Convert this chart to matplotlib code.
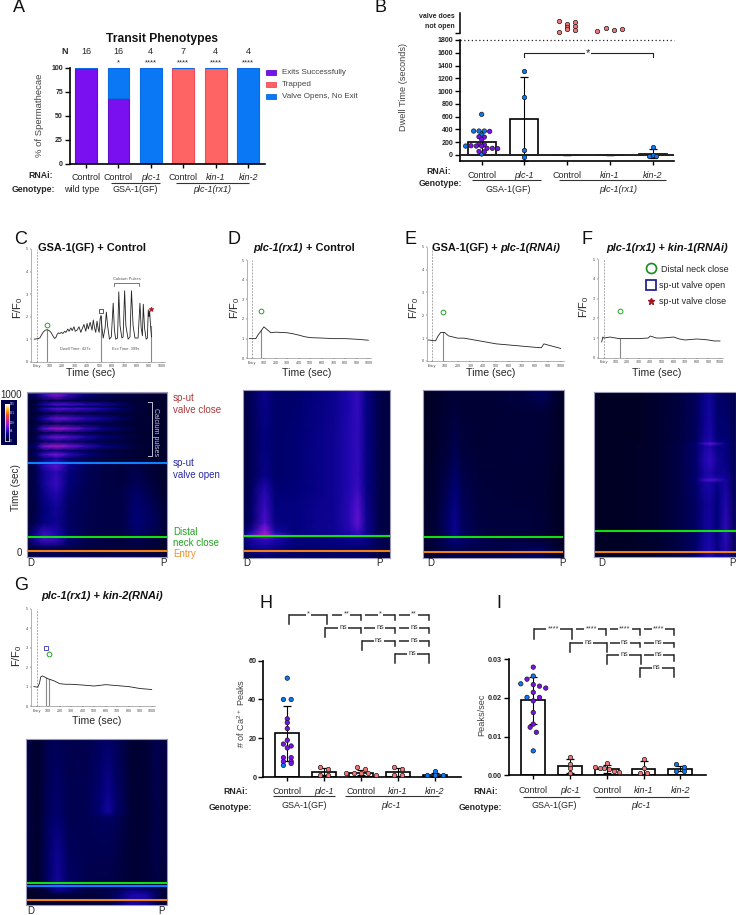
import numpy as np
import matplotlib
matplotlib.use("Agg")
import matplotlib.pyplot as plt
from matplotlib.colors import LinearSegmentedColormap
from matplotlib.patches import Rectangle

plt.rcParams['font.family'] = ['Liberation Sans', 'DejaVu Sans']
plt.rcParams['mathtext.default'] = 'regular'
plt.rcParams['axes.linewidth'] = 1.0

W, H = 736, 915
DARK = '#262626'
PURPLE, BLUE, SALMON, RED = '#7a0ff0', '#0a78f5', '#f07878', '#ff6464'

# ---------- Panel A data ----------
a_labels = ['Control', 'Control', 'plc-1', 'Control', 'kin-1', 'kin-2']
a_exits = [100, 68.75, 0, 0, 0, 0]
a_trapped = [0, 0, 0, 100, 100, 0]
a_valve = [0, 31.25, 100, 0, 0, 100]
a_n = [16, 16, 4, 7, 4, 4]
a_sig = ['', '*', '****', '****', '****', '****']
a_yticks = [0, 25, 50, 75, 100]

# ---------- Panel B data ----------
b_labels = ['Control', 'plc-1', 'Control', 'kin-1', 'kin-2']
b_means = [210, 560, 0, 0, 20]
b_err = [160, 655, 0, 0, 70]
b_ctrl_blue = [636, 375, 375, 375, 313, 140, 15]
b_ctrl_purple = [370, 285, 280, 245, 165, 160, 145, 140, 140, 105, 105, 100, 55, 50]
b_plc_blue = [1320, 915, 80, -30]
b_kin2_blue = [125, 5, -15, -15]
b_yticks = [0, 200, 400, 600, 800, 1000, 1200, 1400, 1600, 1800]
# spermathecae whose valve never opened (arbitrary height above the axis break)
b_noopen_control = [[61, 5], [44, 32, 21], [53, 35, 13]]
b_noopen_kin1 = [[8], [23], [13], [19]]

# ---------- Traces ----------
c_t = [-25, 0, 20, 35, 50, 65, 80, 95, 110, 125, 140, 150, 160, 170, 180, 195, 205, 220, 230, 245, 255, 270, 280, 295,
       305, 320, 335, 350, 360, 375, 390, 400, 410, 425, 440, 450, 460, 470, 480, 490, 497, 505, 512, 520, 530, 545,
       555, 565, 580, 595, 610, 620, 630, 645, 655, 665, 680, 690, 702, 712, 730, 745, 757, 770, 785, 810, 825, 835,
       845, 852, 862, 875, 885, 892, 898, 903, 910, 918]
c_v = [1, 1.02, 1.05, 1.2, 1.33, 1.4, 1.42, 1.38, 1.3, 1.15, 1.03, 1.08, 1.22, 1.28, 1.25, 1.3, 1.25, 1.35, 1.3, 1.45,
       1.35, 1.5, 1.38, 1.55, 1.35, 1.4, 1.55, 1.3, 1.45, 1.65, 1.35, 1.7, 1.45, 1.75, 1.4, 1.85, 1.5, 1.3, 1.8, 1.45,
       1.3, 1.9, 2.05, 1.5, 1.05, 1.5, 2.2, 1.6, 1.0, 1.1, 2.6, 1.4, 1.0, 1.05, 3.1, 1.6, 1.05, 1.1, 3.15, 1.6, 1.0,
       1.1, 3.15, 1.6, 1.05, 1.05, 2.6, 1.5, 1.15, 2.55, 1.5, 1.0, 1.05, 2.3, 2.0, 2.25, 1.6, 1.1]
d_t = [-25, 0, 30, 50, 70, 100, 130, 160, 200, 300, 350, 400, 450, 500, 600, 700, 800, 900, 1000]
d_v = [1.0, 1.0, 1.0, 1.2, 1.35, 1.6, 1.45, 1.3, 1.33, 1.3, 1.25, 1.18, 1.1, 1.05, 1.03, 1.0, 1.0, 0.97, 0.92]
e_t = [-25, 0, 30, 50, 70, 100, 130, 200, 250, 300, 400, 500, 600, 700, 800, 850, 870, 900, 1000]
e_v = [0.92, 0.9, 0.88, 1.1, 1.25, 1.25, 1.1, 1.0, 1.0, 0.95, 0.85, 0.75, 0.7, 0.65, 0.6, 0.58, 0.75, 0.7, 0.55]
f_t = [-20, -10, 0, 50, 100, 130, 200, 300, 380, 400, 450, 500, 600, 650, 700, 800, 850, 900, 950, 1000]
f_v = [0.8, 1.05, 1.0, 1.05, 1.0, 0.97, 0.97, 0.97, 1.0, 1.1, 1.0, 1.0, 1.05, 0.95, 0.9, 0.95, 0.93, 0.9, 0.85, 0.85]
g_t = [-25, 10, 25, 35, 50, 100, 150, 200, 250, 300, 400, 500, 600, 700, 800, 900, 1000]
g_v = [1.0, 0.97, 1.2, 1.5, 1.55, 1.4, 1.3, 1.15, 1.12, 1.12, 1.08, 1.03, 1.1, 1.05, 1.0, 0.9, 0.85]

# ---------- Kymographs: distance along the tissue, time, intensity ----------
c_pos = [0, .06, .12, .21, .3, .42, .55, .68, .78, .9, 1]
c_time = [1040, 985, 950, 926, 913, 900, 870, 838, 805, 774, 747, 720, 692, 663, 636, 610, 585, 540, 500, 430, 360, 270,
          180, 110, 70, 20, -40]
c_grid = [
    [25, 30, 45, 55, 45, 35, 28, 22, 20, 15, 12],
    [25, 35, 70, 105, 70, 40, 28, 22, 20, 15, 12],
    [12, 15, 22, 28, 25, 20, 18, 15, 14, 12, 10],
    [15, 22, 60, 85, 80, 65, 55, 35, 20, 14, 10],
    [12, 16, 28, 40, 38, 32, 26, 20, 15, 12, 10],
    [15, 25, 60, 85, 80, 70, 55, 35, 20, 14, 10],
    [10, 14, 20, 25, 24, 20, 18, 15, 13, 11, 10],
    [15, 25, 60, 95, 85, 65, 50, 30, 18, 13, 10],
    [10, 14, 22, 28, 25, 22, 18, 15, 13, 11, 10],
    [18, 30, 85, 115, 100, 70, 45, 30, 18, 13, 10],
    [12, 16, 25, 32, 28, 22, 18, 15, 13, 11, 10],
    [15, 28, 70, 100, 85, 60, 40, 28, 18, 13, 10],
    [12, 18, 30, 40, 32, 24, 18, 15, 13, 11, 10],
    [20, 40, 100, 120, 100, 70, 45, 32, 20, 14, 10],
    [12, 22, 35, 45, 35, 25, 18, 15, 13, 11, 10],
    [15, 35, 75, 100, 70, 45, 30, 22, 16, 12, 10],
    [12, 22, 40, 55, 35, 24, 18, 15, 13, 11, 10],
    [15, 28, 65, 88, 50, 30, 22, 20, 22, 14, 10],
    [14, 25, 50, 68, 42, 28, 22, 20, 25, 15, 10],
    [14, 25, 52, 72, 40, 28, 22, 20, 28, 18, 10],
    [14, 25, 45, 62, 35, 26, 22, 22, 35, 22, 10],
    [14, 22, 40, 52, 32, 26, 22, 22, 38, 28, 12],
    [15, 28, 42, 50, 32, 25, 22, 22, 40, 30, 14],
    [20, 50, 75, 60, 35, 25, 22, 22, 32, 25, 14],
    [22, 55, 75, 70, 40, 26, 22, 20, 25, 20, 14],
    [15, 22, 28, 26, 22, 20, 18, 18, 18, 15, 12],
    [20, 25, 30, 30, 28, 25, 25, 26, 26, 24, 18],
]
d_pos = [0, .06, .15, .22, .35, .5, .62, .72, .78, .84, .92, 1]
d_time = [1040, 700, 480, 400, 280, 180, 125, 100, 70, 30, -45]
d_grid = [
    [20, 30, 48, 35, 35, 42, 48, 60, 70, 45, 25, 18],
    [20, 28, 42, 35, 38, 45, 50, 62, 70, 45, 25, 18],
    [20, 28, 46, 35, 38, 45, 50, 62, 70, 45, 25, 18],
    [20, 32, 62, 38, 40, 45, 50, 62, 72, 45, 25, 18],
    [22, 35, 72, 42, 42, 48, 50, 65, 85, 48, 25, 18],
    [22, 35, 80, 45, 42, 48, 50, 65, 90, 50, 25, 18],
    [30, 55, 110, 55, 42, 48, 50, 62, 75, 50, 25, 20],
    [40, 80, 125, 80, 45, 45, 48, 55, 65, 50, 30, 25],
    [30, 55, 70, 60, 42, 42, 45, 48, 50, 45, 28, 22],
    [30, 50, 55, 50, 40, 38, 40, 40, 40, 38, 28, 22],
    [20, 28, 35, 30, 30, 30, 30, 30, 30, 30, 20, 20],
]
e_pos = [0, .1, .18, .23, .28, .4, .55, .72, .85, .92, 1]
e_time = [1040, 960, 880, 600, 400, 200, 110, 60, 20, -45]
e_grid = [
    [5, 10, 14, 16, 14, 14, 16, 22, 35, 20, 5],
    [5, 10, 14, 16, 14, 14, 16, 20, 25, 16, 5],
    [5, 10, 15, 18, 15, 14, 15, 16, 16, 12, 5],
    [5, 12, 20, 28, 20, 15, 15, 16, 15, 12, 5],
    [6, 15, 28, 40, 26, 18, 16, 15, 14, 10, 5],
    [8, 18, 35, 48, 30, 20, 18, 18, 16, 10, 5],
    [8, 18, 35, 50, 32, 22, 18, 18, 16, 10, 5],
    [12, 22, 32, 38, 34, 28, 22, 22, 20, 14, 8],
    [10, 18, 24, 26, 25, 22, 22, 28, 28, 18, 8],
    [10, 16, 20, 22, 22, 22, 25, 30, 30, 20, 10],
]
f_pos = [0, .15, .3, .45, .6, .72, .78, .82, .87, .93, 1]
f_time = [1040, 750, 700, 688, 670, 582, 500, 470, 456, 440, 300, 150, 30, -45]
f_grid = [
    [6, 6, 6, 12, 20, 30, 45, 52, 35, 30, 25],
    [6, 6, 6, 12, 20, 30, 50, 58, 38, 38, 25],
    [6, 6, 6, 12, 20, 32, 55, 62, 42, 40, 25],
    [6, 6, 8, 12, 22, 38, 75, 90, 70, 45, 25],
    [6, 6, 8, 12, 22, 35, 55, 62, 45, 42, 25],
    [6, 6, 8, 12, 22, 36, 62, 70, 52, 44, 25],
    [6, 6, 8, 12, 22, 35, 55, 60, 48, 48, 25],
    [6, 6, 8, 12, 22, 36, 60, 65, 55, 52, 25],
    [6, 6, 8, 12, 22, 40, 75, 85, 75, 55, 25],
    [6, 6, 8, 12, 22, 35, 55, 58, 45, 55, 25],
    [6, 6, 8, 12, 22, 32, 48, 52, 40, 62, 25],
    [6, 6, 8, 12, 22, 32, 50, 55, 40, 68, 25],
    [6, 6, 8, 12, 22, 35, 55, 60, 45, 65, 25],
    [6, 6, 8, 12, 20, 35, 55, 62, 45, 50, 25],
]
g_pos = [0, .08, .15, .22, .3, .42, .52, .58, .64, .75, .85, .93, 1]
g_time = [1040, 700, 560, 520, 300, 150, 100, 60, 30, -45]
g_grid = [
    [22, 10, 25, 28, 24, 24, 30, 32, 28, 12, 15, 25, 20],
    [22, 10, 28, 34, 26, 26, 36, 48, 34, 14, 14, 25, 18],
    [22, 10, 28, 36, 26, 26, 38, 55, 36, 14, 14, 24, 18],
    [22, 10, 30, 38, 26, 26, 30, 32, 28, 14, 14, 24, 18],
    [22, 10, 32, 50, 30, 26, 26, 26, 24, 14, 16, 24, 18],
    [22, 10, 32, 52, 32, 26, 24, 24, 22, 14, 16, 22, 16],
    [18, 12, 35, 55, 38, 22, 22, 22, 20, 16, 18, 22, 14],
    [8, 10, 25, 50, 40, 22, 22, 25, 25, 45, 35, 25, 10],
    [8, 10, 14, 18, 18, 18, 20, 25, 35, 60, 60, 30, 8],
    [10, 12, 14, 14, 14, 16, 18, 20, 28, 55, 45, 25, 10],
]

# ---------- Panels H and I ----------
hi_labels = ['Control', 'plc-1', 'Control', 'kin-1', 'kin-2']
h_means = [22.5, 2.8, 2.2, 2.5, 1.2]
h_err = [14, 1.9, 1.4, 1.9, 1.0]
h_ctrl_blue = [51, 40, 40, 6]
h_ctrl_purple = [30, 28, 25, 19, 17, 16, 15, 10, 10, 8, 8, 7]
h_plc = [5, 4, 1, 1]
h_control = [5, 4, 2, 2, 2, 2, 1]
h_kin1 = [5, 4, 1, 1]
h_kin2 = [3, 1, 1, 1]
h_yticks = [0, 20, 40, 60]
i_means = [.0193, .0024, .0017, .0017, .0017]
i_err = [.006, .0018, .001, .0019, .0007]
i_ctrl_blue = [.0256, .0236, .0201, .0063]
i_ctrl_purple = [.0279, .0248, .0234, .023, .0225, .0214, .0201, .0192, .0162, .0132, .0124, .0111]
i_plc = [.0047, .0029, .0018, .0006]
i_control = [.0031, .0022, .0018, .0018, .0016, .001, .0009]
i_kin1 = [.0041, .0019, .0005, .0005]
i_kin2 = [.0028, .0022, .001, .001]
i_yticks = [0, .01, .02, .03]

# significance rows: (level, [(from, to, label)...], [(leg position, leg end)...])
h_sig = [
    (83.7, [(.06, 1.07, '*'), (1.20, 2.0, '**'), (2.11, 2.93, '*'), (3.02, 3.84, '**')],
     [(.06, 78.7), (1.07, 78.7), (2.0, 80.9), (2.93, 80.9), (3.84, 80.9)]),
    (76.8, [(1.03, 2.0, 'ns'), (2.09, 2.93, 'ns'), (3.02, 3.84, 'ns')],
     [(1.03, 72), (2.0, 74.1), (2.93, 74.1), (3.84, 74.1)]),
    (70.3, [(2.03, 2.93, 'ns'), (3.02, 3.84, 'ns')], [(2.03, 65.5), (2.93, 67.5), (3.84, 67.5)]),
    (63.6, [(2.93, 3.84, 'ns')], [(2.93, 58.9), (3.84, 58.9)]),
]
i_sig = [
    (.03765, [(.03, 1.05, '****'), (1.16, 1.99, '****'), (2.08, 2.9, '****'), (3.0, 3.82, '****')],
     [(.03, .03516), (1.05, .03516), (1.99, .03619), (2.9, .03619), (3.82, .03619)]),
    (.03421, [(1.0, 2.0, 'ns'), (2.08, 2.9, 'ns'), (3.0, 3.82, 'ns')],
     [(1.0, .03181), (2.0, .03181), (2.9, .03301), (3.82, .03301)]),
    (.03103, [(2.01, 2.93, 'ns'), (3.0, 3.82, 'ns')], [(2.01, .02863), (2.93, .02863), (3.82, .02957)]),
    (.02768, [(2.9, 3.82, 'ns')], [(2.9, .02527), (3.82, .02527)]),
]

# ---------- Helpers ----------
fig = plt.figure(figsize=(W / 100, H / 100), dpi=100, facecolor='white')
ov = fig.add_axes([0, 0, 1, 1], zorder=20)
ov.set_xlim(0, W); ov.set_ylim(H, 0); ov.axis('off'); ov.patch.set_alpha(0)
renderer = fig.canvas.get_renderer()


def axbox(l, t, r, b, **kw):
    return fig.add_axes([l / W, 1 - b / H, (r - l) / W, (b - t) / H], **kw)


def T(x, y, s, size=6.5, ha='center', va='center', color=DARK, **kw):
    return ov.text(x, y, s, fontsize=size, ha=ha, va=va, color=color, **kw)


def runs(cx, y, parts, size=7.9):
    items = []
    for s, it in parts:
        t = T(0, y, s, size=size, ha='left', fontweight='bold', fontstyle='italic' if it else 'normal', color='#111111')
        items.append((t, t.get_window_extent(renderer).width))
    gap = size * 100 / 72 * 0.28
    total = sum(w for _, w in items) + gap * (len(items) - 1)
    x = cx - total / 2
    for t, w in items:
        t.set_x(x)
        x += w + gap


def rule(x0, x1, y, color='#333333', lw=0.8):
    ov.plot([x0, x1], [y, y], color=color, lw=lw, solid_capstyle='butt')


def swarm(values, binw, step):
    v = np.asarray(values, float)
    off = np.zeros(len(v))
    bins = np.floor(v / binw)
    for b in np.unique(bins):
        idx = np.where(bins == b)[0]
        off[idx] = (np.arange(len(idx)) - (len(idx) - 1) / 2) * step
    return off


def style_xlabels(ax, labels, size=6.5, pad=4):
    ax.set_xticks(range(len(labels)))
    ax.set_xticklabels(labels, fontsize=size, color=DARK)
    for lab, s in zip(ax.get_xticklabels(), labels):
        if s != 'Control':
            lab.set_fontstyle('italic')
    ax.tick_params(axis='x', length=3, width=1, pad=pad)


def style_bar_axes(ax, yticks, fmt, size=5):
    for s in ('top', 'right'):
        ax.spines[s].set_visible(False)
    ax.spines['left'].set_linewidth(1.2)
    ax.spines['bottom'].set_linewidth(1.2)
    ax.set_yticks(yticks)
    ax.set_yticklabels([fmt % v for v in yticks], fontsize=size, fontweight='bold', color=DARK)
    ax.tick_params(axis='y', length=3.5, width=1, pad=1.5)


def points(ax, i, values, color, binw=None, step=0.2, offs=None):
    o = swarm(values, binw, step) if offs is None else offs
    ax.scatter(i + o, values, s=10, c=color, edgecolors='#1a1a1a', linewidths=0.5, zorder=5, clip_on=False)


def means_bars(ax, means, err, width=.65):
    x = np.arange(len(means))
    ax.bar(x, means, width=width, color='white', edgecolor='black', linewidth=1.2, zorder=2)
    ax.errorbar(x, means, yerr=err, fmt='none', ecolor='black', elinewidth=0.8, capsize=3.2, capthick=0.9, zorder=3)


def sig_rows(ax, rows, span):
    for level, segs, legs in rows:
        for a, b, lab in segs:
            ax.plot([a, b], [level, level], color='#262626', lw=1.1, clip_on=False, solid_capstyle='butt')
            stars = '*' in lab
            ax.text((a + b) / 2, level + (0.006 * span if stars else 0.002 * span), lab, fontsize=5.2,
                    ha='center', va='center', color='#333333', clip_on=False,
                    bbox=dict(fc='white', ec='none', pad=0.8), zorder=6)
        for x, end in legs:
            ax.plot([x, x], [level, end], color='#262626', lw=1.1, clip_on=False, solid_capstyle='projecting')


fire = LinearSegmentedColormap.from_list('fire', [
    (0, '#000018'), (20 / 255, '#000040'), (40 / 255, '#000078'), (60 / 255, '#1c06ac'), (80 / 255, '#4a0ecc'),
    (110 / 255, '#9018dc'), (140 / 255, '#d02090'), (180 / 255, '#f05010'), (220 / 255, '#ffc020'), (1, '#ffffff')])


def kymo(box, tlim, pos, times, grid, events):
    ax = axbox(*box)
    ax.pcolormesh(pos, times, np.array(grid, float), shading='gouraud', cmap=fire, vmin=0, vmax=255)
    ax.set_xlim(0, 1); ax.set_ylim(*tlim)
    ax.set_xticks([]); ax.set_yticks([])
    for s in ax.spines.values():
        s.set_color('#9a9ab8'); s.set_linewidth(0.8)
    for t, c, x0, x1 in events:
        ax.axhline(t, color=c, lw=1.5, xmin=x0, xmax=x1)
    return ax


def trace(sx, ex, x1000, y5, y0, t, v, marks, stops):
    per = (x1000 - ex) / 1000
    ax = axbox(sx, y5, x1000 + 3, y0)
    ax.set_xlim((sx - ex) / per, (x1000 + 3 - ex) / per)
    ax.set_ylim(0, 5)
    for s in ('top', 'right'):
        ax.spines[s].set_visible(False)
    for s in ('left', 'bottom'):
        ax.spines[s].set_linewidth(0.4); ax.spines[s].set_color('#777777')
    ax.set_yticks(range(6))
    ax.set_yticklabels([str(i) for i in range(6)], fontsize=2.8, color='#444444')
    ax.set_xticks(range(0, 1001, 100))
    ax.set_xticklabels(['Entry'] + [str(i) for i in range(100, 1001, 100)], fontsize=2.6, color='#444444')
    ax.tick_params(length=1, width=0.3, pad=1)
    ax.axvline(0, color='#aaaaaa', lw=0.7, ls=(0, (2, 1.2)))
    for x in stops:
        ax.plot([x, x], [0, np.interp(x, t, v)], color='#888888', lw=0.8)
    ax.plot(t, v, color='#222222', lw=0.6)
    for x, y, m, c, ms in marks:
        ax.plot([x], [y], marker=m, mfc='none' if m != '*' else c, mec=c, mew=0.7, ms=ms, clip_on=False, zorder=6)
    return ax


GREEN_M, BLUE_M, RED_M = '#2aa02a', '#4a4ac0', '#b02030'

# ---------- Panel A ----------
ax = axbox(70, 67.7, 265, 163.5)
x = np.arange(6)
ax.bar(x, a_exits, .67, color=PURPLE, edgecolor='#5f10c8', linewidth=0.8)
ax.bar(x, a_trapped, .67, bottom=a_exits, color=RED, edgecolor='#f04a5a', linewidth=0.8)
ax.bar(x, a_valve, .67, bottom=np.add(a_exits, a_trapped), color=BLUE, edgecolor='#0a6ce0', linewidth=0.8)
ax.set_xlim(-.494, 5.52); ax.set_ylim(0, 100)
style_bar_axes(ax, a_yticks, '%d')
style_xlabels(ax, a_labels, pad=4)
T(40, 115, '% of Spermathecae', size=6.8, rotation=90, color='#444444')
for i in x:
    px = 86 + 32.4 * i
    T(px, 51, str(a_n[i]), size=6.5)
    if a_sig[i]:
        T(px, 62.5, a_sig[i], size=5.5)
T(65, 52, 'N', size=6.5, fontweight='bold')
T(162, 39, 'Transit Phenotypes', size=8.7, fontweight='bold', color='#111111')
for (name, col, ec), y in zip([('Exits Successfully', PURPLE, '#5f10c8'), ('Trapped', RED, '#f04a5a'),
                               ('Valve Opens, No Exit', BLUE, '#0a6ce0')], (72.7, 84.3, 96)):
    ov.add_patch(Rectangle((265.5, y - 2.5), 10.5, 5, fc=col, ec=ec, lw=0.6))
    T(281.7, y, name, size=5.8, ha='left', color='#444444')
T(53, 175.7, 'RNAi:', ha='right', fontweight='bold', size=6.3)
T(55, 189, 'Genotype:', ha='right', fontweight='bold', size=6.3)
T(82, 189, 'wild type', size=6.5)
rule(110.7, 160, 182.7); rule(176, 249, 182.7)
T(135, 189, 'GSA-1(GF)', size=6.5)
T(212, 189, 'plc-1(rx1)', size=6.5, fontstyle='italic')

# ---------- Panel B ----------
ax = axbox(460, 40, 674, 161)
means_bars(ax, b_means, b_err, width=.655)
ax.axhline(0, color='#222222', lw=1.4, zorder=4)
points(ax, 0, b_ctrl_blue + b_ctrl_purple, [BLUE] * len(b_ctrl_blue) + [PURPLE] * len(b_ctrl_purple), binw=50, step=.125)
points(ax, 1, b_plc_blue, BLUE, binw=50, step=.125)
points(ax, 4, b_kin2_blue, BLUE, binw=50, step=.175)
ax.set_xlim(-.507, 4.5); ax.set_ylim(-94, 1800)
style_bar_axes(ax, b_yticks, '%d')
style_xlabels(ax, b_labels, pad=4)
ax.axhline(1800, color='#222222', lw=0.9, ls=(0, (1, 2)), clip_on=False)
ax.plot([1, 1, 4, 4], [1530, 1596, 1596, 1530], color='#222222', lw=0.8)
ax.text(2.48, 1590, '*', fontsize=8, ha='center', va='center', color='#222222', bbox=dict(fc='white', ec='none', pad=0.5))
ux = axbox(460, 13, 674, 33)
ux.set_xlim(-.507, 4.5); ux.set_ylim(0, 100)
for s in ('top', 'right', 'bottom'):
    ux.spines[s].set_visible(False)
ux.spines['left'].set_linewidth(1.1)
ux.set_xticks([]); ux.set_yticks([0]); ux.set_yticklabels([''])
ux.tick_params(axis='y', length=3.5, width=1)
ux.patch.set_alpha(0)
for i, groups in ((2, b_noopen_control), (3, b_noopen_kin1)):
    step = .18 if i == 2 else .195
    for k, col in enumerate(groups):
        points(ux, i + (k - (len(groups) - 1) / 2) * step, col, SALMON, offs=np.zeros(len(col)))
T(455, 17, 'valve does', size=5, ha='right', fontweight='bold')
T(455, 26, 'not open', size=5, ha='right', fontweight='bold')
T(404, 87, 'Dwell Time (seconds)', size=6.6, rotation=90, color='#444444')
T(451, 172, 'RNAi:', ha='right', fontweight='bold', size=6.3)
T(462, 184, 'Genotype:', ha='right', fontweight='bold', size=6.3)
rule(472, 541, 180); rule(559, 666, 180)
T(508, 189, 'GSA-1(GF)', size=6.5)
T(618, 189, 'plc-1(rx1)', size=6.5, fontstyle='italic')

# ---------- Traces C-G ----------
trace(30.7, 37.3, 161.7, 249, 361.7, c_t, c_v,
      [(80, 1.65, 'o', GREEN_M, 3.4), (515, 2.25, 's', BLUE_M, 3.4), (915, 2.35, '*', RED_M, 3.4)], [80, 510, 910])
T(126.7, 279, 'Calcium Pulses', size=2.9, color='#555555')
ov.plot([114.3, 114.3, 139.3, 139.3], [285.5, 283.3, 283.3, 285.5], color='#444444', lw=0.5)
T(75, 348.5, 'Dwell Time: 427s', size=2.9, color='#555555')
T(126, 348.5, 'Exit Time: 399s', size=2.9, color='#555555')
trace(247, 252.3, 368.3, 260, 358.3, d_t, d_v, [(78, 2.42, 'o', GREEN_M, 3.4)], [78])
trace(426.7, 431.7, 560.7, 246.7, 361, e_t, e_v, [(90, 2.13, 'o', GREEN_M, 3.4)], [90])
trace(598, 604, 720, 259.3, 357.7, f_t, f_v, [(141, 2.39, 'o', GREEN_M, 3.4)], [141])
trace(31, 36.7, 151.7, 609, 706, g_t, g_v,
      [(85, 3.0, 's', BLUE_M, 3.4), (105, 2.68, 'o', GREEN_M, 3.4)], [85, 105])

runs(92, 248, [('GSA-1(GF) + Control', False)])
runs(304, 248, [('plc-1(rx1)', True), ('+ Control', False)])
runs(496, 248, [('GSA-1(GF) +', False), ('plc-1(RNAi)', True)])
runs(667, 248, [('plc-1(rx1) + kin-1(RNAi)', True)])
runs(102, 596, [('plc-1(rx1) + kin-2(RNAi)', True)])
for px, py in ((91, 373), (307, 373), (491, 373), (657, 373), (97, 720.7)):
    T(px, py, 'Time (sec)', size=7.6)
for px, py in ((18, 308), (235, 308), (414, 308), (584, 307), (17, 656)):
    T(px, py, 'F/F$_0$', size=8, rotation=90)

ov.plot([651], [268], marker='o', mfc='none', mec='#1a8a1a', mew=1.2, ms=7.2)
ov.plot([650.7], [285], marker='s', mfc='none', mec='#14148c', mew=1.2, ms=6.6)
ov.plot([650.7], [300.7], marker='*', mfc='#a01828', mec='#a01828', ms=4.5)
T(660.7, 270, 'Distal neck close', size=6.5, ha='left')
T(658.7, 286, 'sp-ut valve open', size=6.5, ha='left')
T(658.7, 301, 'sp-ut valve close', size=6.5, ha='left')

# ---------- Kymographs ----------
KRED, KBLUE, KGREEN, KORANGE = '#b01030', '#1080ff', '#10e010', '#f08010'
kymo((27, 392, 167, 557.3), (-38, 1006), c_pos, c_time, c_grid,
     [(1000, KRED, 0, 1), (558, KBLUE, 0, 1), (90, KGREEN, 0, 1), (0, KORANGE, 0, 1)])
kymo((242.7, 389.7, 390, 557.7), (-42, 1024), d_pos, d_time, d_grid, [(97, KGREEN, 0, 1), (0, KORANGE, 0, 1)])
kymo((422.7, 389.7, 563.7, 557.7), (-36, 1030), e_pos, e_time, e_grid, [(95, KGREEN, .01, .99), (0, KORANGE, .01, .99)])
kymo((593.7, 391.7, 735.7, 557), (-32, 1018), f_pos, f_time, f_grid, [(131, KGREEN, .01, 1), (0, KORANGE, .01, 1)])
kymo((26.3, 739.3, 167, 905), (-33, 1015), g_pos, g_time, g_grid,
     [(104, KGREEN, 0, 1), (87, KBLUE, 0, 1), (0, KORANGE, 0, 1)])

T(22, 395, '1000', size=7, ha='right')
T(22, 553, '0', size=7, ha='right')
T(16, 488, 'Time (sec)', size=7.2, rotation=90)
for px, py, s in ((31, 563, 'D'), (163, 563, 'P'), (247, 563, 'D'), (379, 563, 'P'), (431, 563, 'D'), (562.7, 563, 'P'),
                  (601.7, 563, 'D'), (732, 563, 'P'), (30.7, 911, 'D'), (161.7, 911, 'P')):
    T(px, py, s, size=7)
for py, s, c in ((398, 'sp-ut', '#a83a3a'), (410, 'valve close', '#a83a3a'), (463, 'sp-ut', '#2a2aa0'),
                 (475, 'valve open', '#2a2aa0'), (532, 'Distal', '#22a022'), (543, 'neck close', '#22a022'),
                 (554, 'Entry', '#f0902a')):
    T(173, py, s, size=7, ha='left', color=c)
T(155.7, 431.7, 'Calcium pulses', size=5, rotation=270, color='#c8c8d8')
ov.plot([148, 151.5, 151.5, 148], [402.3, 402.3, 455.7, 455.7], color='#c0c0d0', lw=0.7)

cb_bg = axbox(0.5, 400, 17, 445)
cb_bg.set_facecolor('#000050'); cb_bg.set_xticks([]); cb_bg.set_yticks([])
for s in cb_bg.spines.values():
    s.set_visible(False)
cb = axbox(5, 404, 9.3, 441)
cb.imshow(np.linspace(255, 0, 128)[:, None], aspect='auto', cmap=fire, vmin=0, vmax=255)
cb.set_xticks([]); cb.set_yticks([])
for s in cb.spines.values():
    s.set_color('white'); s.set_linewidth(0.5)
for py, s in ((404, '255'), (413, '191'), (422.5, '128'), (431.5, '64'), (440.5, '0')):
    T(10.2, py, s, size=2.2, ha='left', color='#d0d0e0')

# ---------- Panel H ----------
ax = axbox(263.3, 660.7, 460.7, 777)
means_bars(ax, h_means, h_err)
points(ax, 0, h_ctrl_blue + h_ctrl_purple, [BLUE] * len(h_ctrl_blue) + [PURPLE] * len(h_ctrl_purple), binw=2, step=.21)
points(ax, 1, h_plc, SALMON, binw=2, step=.21)
points(ax, 2, h_control, SALMON, binw=3, step=.2)
points(ax, 3, h_kin1, SALMON, binw=2, step=.21)
points(ax, 4, h_kin2, BLUE, binw=2, step=.21)
ax.set_xlim(-.65, 4.7); ax.set_ylim(0, 60)
style_bar_axes(ax, h_yticks, '%d', size=5.2)
style_xlabels(ax, hi_labels, pad=4.5)
sig_rows(ax, h_sig, 60)
T(241, 713, '# of Ca$^{2+}$ Peaks', size=6.6, rotation=90, color='#444444')
T(248, 792, 'RNAi:', ha='right', fontweight='bold', size=6.3)
T(252, 808, 'Genotype:', ha='right', fontweight='bold', size=6.3)
rule(273, 335, 796); rule(345, 439, 796)
T(304, 805, 'GSA-1(GF)', size=6.5)
T(391, 805, 'plc-1', size=6.5, fontstyle='italic')

# ---------- Panel I ----------
ax = axbox(509, 659, 706, 775.3)
means_bars(ax, i_means, i_err)
points(ax, 0, i_ctrl_blue + i_ctrl_purple, [BLUE] * len(i_ctrl_blue) + [PURPLE] * len(i_ctrl_purple), binw=.0025, step=.17)
points(ax, 1, i_plc, SALMON, binw=.0009, step=.2)
points(ax, 2, i_control, SALMON, binw=.003, step=.13)
points(ax, 3, i_kin1, SALMON, binw=.001, step=.21)
points(ax, 4, i_kin2, BLUE, binw=.0018, step=.21)
ax.set_xlim(-.66, 4.7); ax.set_ylim(0, .03)
style_bar_axes(ax, i_yticks, '%.2f', size=5.2)
style_xlabels(ax, hi_labels, pad=4.5)
sig_rows(ax, i_sig, .03)
T(482, 715, 'Peaks/sec', size=6.6, rotation=90, color='#444444')
T(498, 792, 'RNAi:', ha='right', fontweight='bold', size=6.3)
T(502, 808, 'Genotype:', ha='right', fontweight='bold', size=6.3)
rule(523, 580, 797); rule(595, 689, 797)
T(554, 805, 'GSA-1(GF)', size=6.5)
T(641, 805, 'plc-1', size=6.5, fontstyle='italic')

# ---------- Panel letters ----------
for px, py, s in ((19, 8, 'A'), (380.7, 8, 'B'), (20.7, 240, 'C'), (234, 240, 'D'), (410, 240, 'E'), (586.7, 240, 'F'),
                  (21, 586, 'G'), (266, 603, 'H'), (499, 603, 'I')):
    T(px, py, s, size=13, color='#111111')

fig.savefig('out.png', dpi=100)
